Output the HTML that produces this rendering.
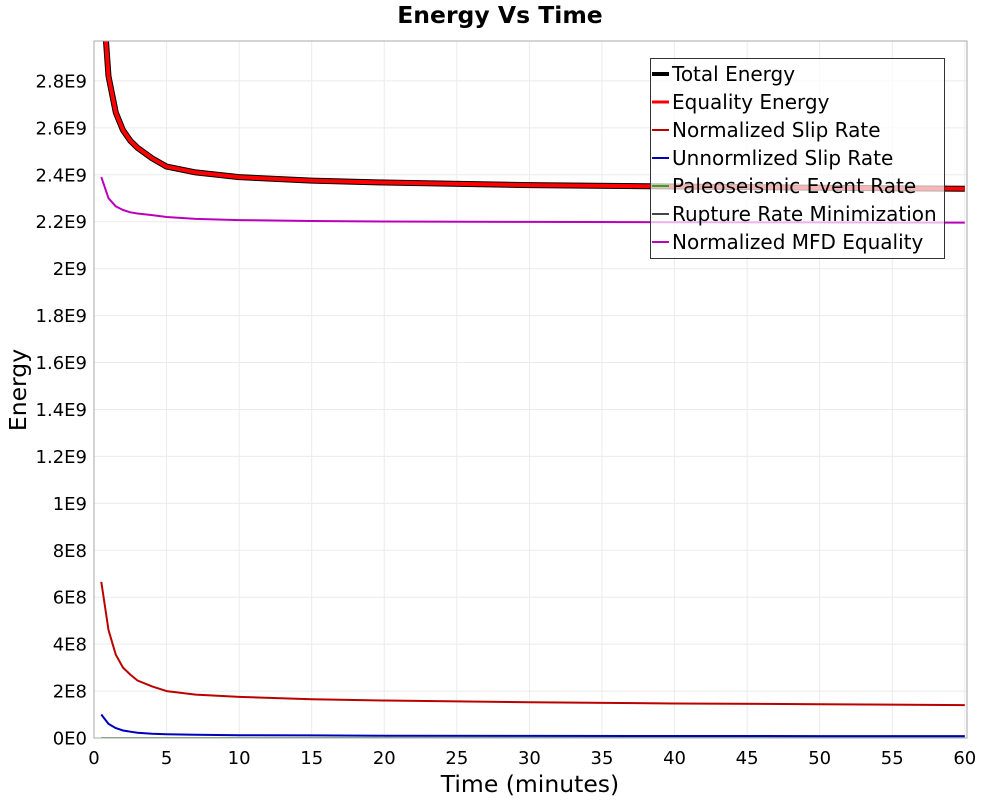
<!DOCTYPE html>
<html><head><meta charset="utf-8"><style>
body{margin:0;background:#fff}
svg text{font-family:"DejaVu Sans","Liberation Sans",sans-serif}
</style></head><body>
<svg id="chart" width="1000" height="800" xmlns="http://www.w3.org/2000/svg">
<rect width="1000" height="800" fill="#fff"/>
<text x="500" y="23" text-anchor="middle" font-size="23.5" font-weight="bold">Energy Vs Time</text>
<g id="grid"></g>
<g id="axes"></g>
<g id="series"></g>
<rect x="94" y="41" width="873" height="697" fill="none" stroke="#aaa" stroke-width="1"/>
<text x="530" y="792" text-anchor="middle" font-size="23.5">Time (minutes)</text>
<text transform="translate(26,390) rotate(-90)" text-anchor="middle" font-size="23.5">Energy</text>
<g id="legend"></g>
</svg>
<script>
const times=[0.5,1,1.5,2,2.5,3,4,5,7,10,15,20,30,40,50,60];
const totalEnergy=[3.25e9,2.82e9,2.665e9,2.59e9,2.545e9,2.515e9,2.47e9,2.435e9,2.41e9,2.39e9,2.375e9,2.367e9,2.356e9,2.35e9,2.345e9,2.34e9];
const equalityEnergy=[3.25e9,2.82e9,2.665e9,2.59e9,2.545e9,2.515e9,2.47e9,2.435e9,2.41e9,2.39e9,2.375e9,2.367e9,2.356e9,2.35e9,2.345e9,2.34e9];
const normSlip=[6.65e8,4.6e8,3.55e8,3.0e8,2.7e8,2.45e8,2.2e8,2.0e8,1.85e8,1.75e8,1.65e8,1.6e8,1.52e8,1.47e8,1.44e8,1.4e8];
const unnormSlip=[1.0e8,0.6e8,0.42e8,0.32e8,0.27e8,0.22e8,0.18e8,0.16e8,0.14e8,0.12e8,0.11e8,0.1e8,0.09e8,0.085e8,0.08e8,0.08e8];
const paleo=[0,0,0,0,0,0,0,0,0,0,0,0,0,0,0,0];
const rupture=[0,0,0,0,0,0,0,0,0,0,0,0,0,0,0,0];
const mfd=[2.39e9,2.3e9,2.265e9,2.25e9,2.24e9,2.235e9,2.228e9,2.22e9,2.212e9,2.207e9,2.203e9,2.201e9,2.199e9,2.198e9,2.197e9,2.196e9];
const xTicks=[0,5,10,15,20,25,30,35,40,45,50,55,60];
const yTicks=[0,2e8,4e8,6e8,8e8,1e9,1.2e9,1.4e9,1.6e9,1.8e9,2e9,2.2e9,2.4e9,2.6e9,2.8e9];
const yTickLabels=["0E0","2E8","4E8","6E8","8E8","1E9","1.2E9","1.4E9","1.6E9","1.8E9","2E9","2.2E9","2.4E9","2.6E9","2.8E9"];
const seriesNames=["Total Energy","Equality Energy","Normalized Slip Rate","Unnormlized Slip Rate","Paleoseismic Event Rate","Rupture Rate Minimization","Normalized MFD Equality"];

const L=94,R=967,T=41,B=738,XMAX=60.15,YMAX=2.97e9;
const xs=v=>L+v/XMAX*(R-L);
const ys=v=>B-v/YMAX*(B-T);
const NS="http://www.w3.org/2000/svg";
function mk(t,a,p){const e=document.createElementNS(NS,t);for(const k in a)e.setAttribute(k,a[k]);p.appendChild(e);return e;}
const grid=document.getElementById('grid'),axes=document.getElementById('axes'),ser=document.getElementById('series'),leg=document.getElementById('legend');
xTicks.forEach(t=>{
  const g=mk('line',{x1:xs(t),x2:xs(t),y1:T,y2:B,stroke:'#ebebeb','stroke-width':1},grid);
  
  
  const tx=mk('text',{x:xs(t),y:764,'text-anchor':'middle','font-size':18},axes);
  tx.textContent=t;
  
  
});
yTicks.forEach((t,i)=>{
  const g=mk('line',{x1:L,x2:R,y1:ys(t),y2:ys(t),stroke:'#ebebeb','stroke-width':1},grid);
  
  
  const tx=mk('text',{x:87,y:ys(t)+6.5,'text-anchor':'end','font-size':18},axes);
  tx.textContent=yTickLabels[i];
  
  
});
const defs=[[rupture,'#444',1.5],[paleo,'#22aa22',1.5],[unnormSlip,'#0000bb',2],[normSlip,'#bb0000',2],[mfd,'#bb00bb',2],[totalEnergy,'#000',6],[equalityEnergy,'#ff0000',4]];
const names=['rupture-rate-line','paleoseismic-line','unnormalized-slip-line','normalized-slip-line','mfd-equality-line','total-energy-line','equality-energy-line'];
const cp=mk('clipPath',{id:'clip'},document.getElementById('chart'));
mk('rect',{x:L,y:T,width:R-L,height:B-T},cp);
ser.setAttribute('clip-path','url(#clip)');
defs.forEach((d,i)=>{
  const pts=times.map((t,j)=>xs(t).toFixed(1)+','+ys(d[0][j]).toFixed(1)).join(' ');
  const p=mk('polyline',{points:pts,fill:'none',stroke:d[1],'stroke-width':d[2],'stroke-linejoin':'round'},ser);
  
  
});
const box=mk('rect',{x:650.5,y:58.5,width:294,height:200,fill:'rgba(255,255,255,0.7)',stroke:'#333','stroke-width':1},leg);


const lc=['#000','#ff0000','#bb0000','#0000bb','#22aa22','#444','#bb00bb'],lw=[4,3,2,2,2,2,2];
seriesNames.forEach((n,i)=>{
  const y=74+i*28;
  const g=mk('g',{},leg);
  
  
  mk('line',{x1:652,x2:669,y1:y,y2:y,stroke:lc[i],'stroke-width':lw[i]},g);
  const t=mk('text',{x:672,y:y+7,'font-size':20,textLength:0},g);
  t.removeAttribute('textLength');
  t.textContent=n;
});
</script>
</body></html>
